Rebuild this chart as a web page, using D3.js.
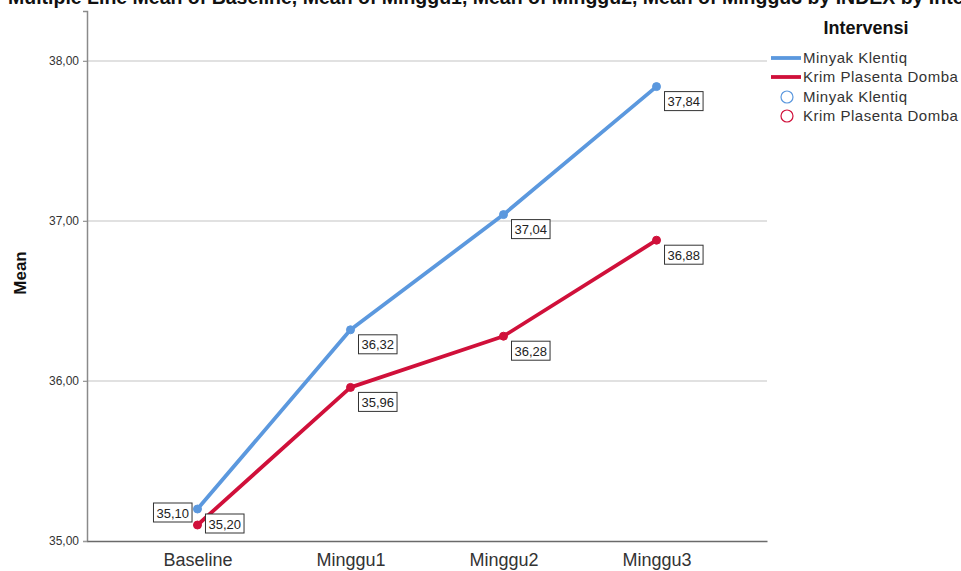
<!DOCTYPE html>
<html>
<head>
<meta charset="utf-8">
<script src="https://cdn.jsdelivr.net/npm/d3@7/dist/d3.min.js"></script>
<style>
  body { margin: 0; background: #fff; }
  svg { display: block; font-family: Arial, "Liberation Sans", sans-serif; }
</style>
</head>
<body>
<svg id="chart" width="961" height="571"></svg>
<script>
const titleText = "Multiple Line Mean of Baseline, Mean of Minggu1, Mean of Minggu2, Mean of Minggu3 by INDEX by Intervensi";
const categories = ["Baseline", "Minggu1", "Minggu2", "Minggu3"];
const seriesNames = ["Minyak Klentiq", "Krim Plasenta Domba"];
const minyakKlentiq = [35.20, 36.32, 37.04, 37.84];
const krimPlasentaDomba = [35.10, 35.96, 36.28, 36.88];
const yTicks = [35, 36, 37, 38];
const legendTitle = "Intervensi";
const yLabel = "Mean";

(function () {
const colors = ["#5b98de", "#d0103a"];
const seriesValues = [minyakKlentiq, krimPlasentaDomba];

const svg = d3.select("#chart");
const pLeft = 87, pRight = 767, pTop = 11, pBottom = 541;

const x = d3.scalePoint().domain(categories).range([pLeft, pRight]).padding(0.722);
const y = d3.scaleLinear().domain([35, 38.3125]).range([pBottom, pTop]);
const fmt = v => d3.format(".2f")(v).replace(".", ",");

// title (clipped at top, as in the reference)
svg.append("text").attr("x", 8).attr("y", 4)
  .attr("font-size", 19.5).attr("font-weight", "bold").attr("fill", "#111")
  .text(titleText);

// gridlines
svg.append("g").selectAll("line").data(yTicks.filter(d => d > 35)).join("line")
  .attr("x1", pLeft - 4).attr("x2", pRight)
  .attr("y1", d => y(d)).attr("y2", d => y(d))
  .attr("stroke", "#c4c4c4").attr("stroke-width", 1.2);

// y axis
const yAxis = svg.append("g").attr("transform", `translate(${pLeft},0)`)
  .call(d3.axisLeft(y).tickValues(yTicks).tickFormat(fmt).tickSize(4).tickPadding(4));
yAxis.select(".domain").attr("stroke", "#8a8a8a").attr("stroke-width", 1.5);
yAxis.selectAll(".tick line").attr("stroke", "#9a9a9a");
yAxis.selectAll(".tick text").attr("font-size", 12).attr("fill", "#333")
  .attr("font-family", "Arial, 'Liberation Sans', sans-serif");

// x axis
const xAxis = svg.append("g").attr("transform", `translate(0,${pBottom})`)
  .call(d3.axisBottom(x).tickSize(0).tickPadding(12));
xAxis.select(".domain").attr("stroke", "#6a6a6a").attr("stroke-width", 1.5);
xAxis.selectAll(".tick text").attr("font-size", 18).attr("fill", "#333")
  .attr("font-family", "Arial, 'Liberation Sans', sans-serif");

// y label
svg.append("text").attr("transform", `translate(26,273) rotate(-90)`)
  .attr("text-anchor", "middle").attr("font-size", 17).attr("font-weight", "bold").attr("fill", "#111")
  .text(yLabel);

// lines
const line = d3.line().x((d, i) => x(categories[i])).y(d => y(d));
seriesValues.forEach((vals, s) => {
  svg.append("path").datum(vals).attr("d", line)
    .attr("fill", "none").attr("stroke", colors[s]).attr("stroke-width", 3.8)
    .attr("stroke-linejoin", "round").attr("stroke-linecap", "round");
  svg.append("g").selectAll("circle").data(vals).join("circle")
    .attr("cx", (d, i) => x(categories[i])).attr("cy", d => y(d)).attr("r", 4)
    .attr("fill", colors[s]).attr("stroke", colors[s]).attr("stroke-width", 1);
});

// value labels
const labelG = svg.append("g");
seriesValues.forEach((vals, s) => {
  vals.forEach((v, i) => {
    const px = x(categories[i]), py = y(v);
    let bx = px + 8, by = py + 5;
    if (i === 0 && s === 1) { bx = px - 44; by = py - 22; }
    const g = labelG.append("g").attr("transform", `translate(${bx},${by})`);
    const t = g.append("text").attr("x", 3).attr("y", 14.5).attr("font-size", 13).attr("fill", "#222").text(fmt(v));
    const w = t.node().getComputedTextLength() + 6;
    g.insert("rect", "text").attr("width", w).attr("height", 19)
      .attr("fill", "#fff").attr("stroke", "#333").attr("stroke-width", 1);
  });
});

// legend
svg.append("text").attr("x", 866).attr("y", 34).attr("text-anchor", "middle")
  .attr("font-size", 18).attr("font-weight", "bold").attr("fill", "#111").text(legendTitle);
const lg = svg.append("g");
seriesNames.forEach((name, s) => {
  const ly = 58 + s * 19;
  lg.append("line").attr("x1", 771).attr("x2", 801).attr("y1", ly).attr("y2", ly)
    .attr("stroke", colors[s]).attr("stroke-width", 3.8);
  lg.append("text").attr("x", 803).attr("y", ly + 5).attr("font-size", 15)
    .attr("letter-spacing", 0.5).attr("fill", "#333").text(name);
});
seriesNames.forEach((name, s) => {
  const ly = 97 + s * 19;
  lg.append("circle").attr("cx", 787).attr("cy", ly).attr("r", 6)
    .attr("fill", "none").attr("stroke", colors[s]).attr("stroke-width", 1.2);
  lg.append("text").attr("x", 803).attr("y", ly + 5).attr("font-size", 15)
    .attr("letter-spacing", 0.5).attr("fill", "#333").text(name);
});
})();
</script>
</body>
</html>
